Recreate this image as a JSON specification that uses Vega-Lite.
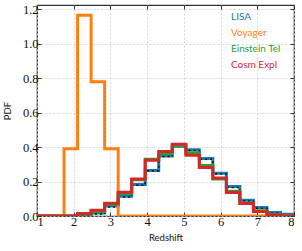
{
  "$schema": "https://vega.github.io/schema/vega-lite/v6.json",
  "width": 257,
  "height": 211,
  "autosize": "none",
  "padding": {"left": 37, "top": 5, "right": 8, "bottom": 35},
  "background": "white",
  "config": {
    "view": {"stroke": "#333333", "strokeWidth": 1.2},
    "axis": {
      "labelFont": "Liberation Serif",
      "labelFontSize": 12.5,
      "labelColor": "#111111",
      "titleFont": "Lato",
      "titleFontSize": 9.5,
      "titleFontWeight": "normal",
      "titleColor": "#111111",
      "domain": false,
      "tickColor": "#333333",
      "tickSize": -4,
      "gridColor": "#cccccc",
      "gridDash": [2, 2],
      "gridWidth": 0.8
    }
  },
  "data": {
    "values": [
      {"s": "LISA", "x": 1.0, "y": 0}, {"s": "LISA", "x": 1.368, "y": 0}, {"s": "LISA", "x": 1.737, "y": 0},
      {"s": "LISA", "x": 2.105, "y": 0.005}, {"s": "LISA", "x": 2.474, "y": 0.017}, {"s": "LISA", "x": 2.842, "y": 0.058},
      {"s": "LISA", "x": 3.211, "y": 0.115}, {"s": "LISA", "x": 3.579, "y": 0.183}, {"s": "LISA", "x": 3.947, "y": 0.264},
      {"s": "LISA", "x": 4.316, "y": 0.349}, {"s": "LISA", "x": 4.684, "y": 0.405}, {"s": "LISA", "x": 5.053, "y": 0.384},
      {"s": "LISA", "x": 5.421, "y": 0.334}, {"s": "LISA", "x": 5.789, "y": 0.248}, {"s": "LISA", "x": 6.158, "y": 0.171},
      {"s": "LISA", "x": 6.526, "y": 0.091}, {"s": "LISA", "x": 6.895, "y": 0.049}, {"s": "LISA", "x": 7.263, "y": 0.02},
      {"s": "LISA", "x": 7.632, "y": 0.01}, {"s": "LISA", "x": 8.0, "y": 0},

      {"s": "True", "x": 1.0, "y": 0}, {"s": "True", "x": 1.368, "y": 0}, {"s": "True", "x": 1.737, "y": 0},
      {"s": "True", "x": 2.105, "y": 0.002}, {"s": "True", "x": 2.474, "y": 0.012}, {"s": "True", "x": 2.842, "y": 0.052},
      {"s": "True", "x": 3.211, "y": 0.11}, {"s": "True", "x": 3.579, "y": 0.178}, {"s": "True", "x": 3.947, "y": 0.262},
      {"s": "True", "x": 4.316, "y": 0.345}, {"s": "True", "x": 4.684, "y": 0.403}, {"s": "True", "x": 5.053, "y": 0.38},
      {"s": "True", "x": 5.421, "y": 0.33}, {"s": "True", "x": 5.789, "y": 0.244}, {"s": "True", "x": 6.158, "y": 0.166},
      {"s": "True", "x": 6.526, "y": 0.087}, {"s": "True", "x": 6.895, "y": 0.045}, {"s": "True", "x": 7.263, "y": 0.016},
      {"s": "True", "x": 7.632, "y": 0.006}, {"s": "True", "x": 8.0, "y": 0},

      {"s": "Voyager", "x": 1.0, "y": 0}, {"s": "Voyager", "x": 1.368, "y": 0}, {"s": "Voyager", "x": 1.737, "y": 0.39},
      {"s": "Voyager", "x": 2.105, "y": 1.165}, {"s": "Voyager", "x": 2.474, "y": 0.78}, {"s": "Voyager", "x": 2.842, "y": 0.39},
      {"s": "Voyager", "x": 3.211, "y": 0}, {"s": "Voyager", "x": 3.579, "y": 0}, {"s": "Voyager", "x": 3.947, "y": 0},
      {"s": "Voyager", "x": 4.316, "y": 0}, {"s": "Voyager", "x": 4.684, "y": 0}, {"s": "Voyager", "x": 5.053, "y": 0},
      {"s": "Voyager", "x": 5.421, "y": 0}, {"s": "Voyager", "x": 5.789, "y": 0}, {"s": "Voyager", "x": 6.158, "y": 0},
      {"s": "Voyager", "x": 6.526, "y": 0}, {"s": "Voyager", "x": 6.895, "y": 0}, {"s": "Voyager", "x": 7.263, "y": 0},
      {"s": "Voyager", "x": 7.632, "y": 0}, {"s": "Voyager", "x": 8.0, "y": 0},

      {"s": "Einstein Tel", "x": 1.0, "y": 0}, {"s": "Einstein Tel", "x": 1.368, "y": 0}, {"s": "Einstein Tel", "x": 1.737, "y": 0},
      {"s": "Einstein Tel", "x": 2.105, "y": 0.01}, {"s": "Einstein Tel", "x": 2.474, "y": 0.026}, {"s": "Einstein Tel", "x": 2.842, "y": 0.068},
      {"s": "Einstein Tel", "x": 3.211, "y": 0.13}, {"s": "Einstein Tel", "x": 3.579, "y": 0.21}, {"s": "Einstein Tel", "x": 3.947, "y": 0.33},
      {"s": "Einstein Tel", "x": 4.316, "y": 0.362}, {"s": "Einstein Tel", "x": 4.684, "y": 0.41}, {"s": "Einstein Tel", "x": 5.053, "y": 0.367},
      {"s": "Einstein Tel", "x": 5.421, "y": 0.293}, {"s": "Einstein Tel", "x": 5.789, "y": 0.215}, {"s": "Einstein Tel", "x": 6.158, "y": 0.143},
      {"s": "Einstein Tel", "x": 6.526, "y": 0.075}, {"s": "Einstein Tel", "x": 6.895, "y": 0.03}, {"s": "Einstein Tel", "x": 7.263, "y": 0.008},
      {"s": "Einstein Tel", "x": 7.632, "y": 0}, {"s": "Einstein Tel", "x": 8.0, "y": 0},

      {"s": "Cosm Expl", "x": 1.0, "y": 0}, {"s": "Cosm Expl", "x": 1.368, "y": 0}, {"s": "Cosm Expl", "x": 1.737, "y": 0},
      {"s": "Cosm Expl", "x": 2.105, "y": 0.014}, {"s": "Cosm Expl", "x": 2.474, "y": 0.033}, {"s": "Cosm Expl", "x": 2.842, "y": 0.074},
      {"s": "Cosm Expl", "x": 3.211, "y": 0.138}, {"s": "Cosm Expl", "x": 3.579, "y": 0.215}, {"s": "Cosm Expl", "x": 3.947, "y": 0.324},
      {"s": "Cosm Expl", "x": 4.316, "y": 0.374}, {"s": "Cosm Expl", "x": 4.684, "y": 0.417}, {"s": "Cosm Expl", "x": 5.053, "y": 0.353},
      {"s": "Cosm Expl", "x": 5.421, "y": 0.281}, {"s": "Cosm Expl", "x": 5.789, "y": 0.221}, {"s": "Cosm Expl", "x": 6.158, "y": 0.136},
      {"s": "Cosm Expl", "x": 6.526, "y": 0.072}, {"s": "Cosm Expl", "x": 6.895, "y": 0.026}, {"s": "Cosm Expl", "x": 7.263, "y": 0.006},
      {"s": "Cosm Expl", "x": 7.632, "y": 0}, {"s": "Cosm Expl", "x": 8.0, "y": 0}
    ]
  },
  "layer": [
    {
      "encoding": {
        "x": {
          "field": "x", "type": "quantitative",
          "scale": {"domain": [1, 8], "nice": false, "zero": false},
          "axis": {"title": "Redshift", "values": [1, 2, 3, 4, 5, 6, 7, 8], "labelFont": "Liberation Serif", "labelFontSize": 12.5, "labelPadding": 3, "titlePadding": 5}
        },
        "y": {
          "field": "y", "type": "quantitative",
          "scale": {"domain": [0, 1.225], "nice": false},
          "axis": {"title": "PDF", "values": [0, 0.2, 0.4, 0.6, 0.8, 1.0, 1.2], "format": ".1f", "labelFont": "Liberation Serif", "labelFontSize": 12.5, "labelPadding": 3, "titlePadding": 10}
        }
      },
      "layer": [
        {
          "transform": [{"filter": "datum.s === 'LISA'"}],
          "mark": {"type": "line", "interpolate": "step-after", "strokeWidth": 3, "clip": true, "strokeJoin": "miter", "strokeCap": "butt"},
          "encoding": {"color": {"datum": "LISA", "type": "nominal", "scale": {"domain": ["LISA", "Voyager", "Einstein Tel", "Cosm Expl"], "range": ["#1f77b4", "#ff7f0e", "#2ca02c", "#d62728"]}, "legend": {"title": null, "orient": "none", "legendX": 184, "legendY": 7, "symbolSize": 0, "symbolStrokeWidth": 0, "symbolOpacity": 0, "labelFont": "Lato", "labelFontSize": 10, "labelOffset": 0, "rowPadding": 6, "encode": {"labels": {"update": {"fill": {"scale": "color", "field": "value"}}}}}}}
        },
        {
          "transform": [{"filter": "datum.s === 'True'"}],
          "mark": {"type": "line", "interpolate": "step-after", "strokeWidth": 1.5, "color": "#111111", "strokeDash": [2, 3], "clip": true},
          "encoding": {}
        },
        {
          "transform": [{"filter": "datum.s === 'Voyager'"}],
          "mark": {"type": "line", "interpolate": "step-after", "strokeWidth": 3, "clip": true, "strokeJoin": "miter", "strokeCap": "butt"},
          "encoding": {"color": {"datum": "Voyager", "type": "nominal"}}
        },
        {
          "transform": [{"filter": "datum.s === 'Einstein Tel'"}],
          "mark": {"type": "line", "interpolate": "step-after", "strokeWidth": 3, "clip": true, "strokeJoin": "miter", "strokeCap": "butt"},
          "encoding": {"color": {"datum": "Einstein Tel", "type": "nominal"}}
        },
        {
          "transform": [{"filter": "datum.s === 'Cosm Expl'"}],
          "mark": {"type": "line", "interpolate": "step-after", "strokeWidth": 3, "clip": true, "strokeJoin": "miter", "strokeCap": "butt"},
          "encoding": {"color": {"datum": "Cosm Expl", "type": "nominal"}}
        }
      ]
    },
    {
      "mark": {"type": "rule", "color": "#333333", "strokeWidth": 1, "opacity": 0},
      "encoding": {"x": {"datum": 1.0, "type": "quantitative", "axis": {"orient": "top", "labels": false, "title": null, "grid": false, "values": [1, 2, 3, 4, 5, 6, 7, 8]}}}
    },
    {
      "mark": {"type": "rule", "color": "#333333", "strokeWidth": 1, "opacity": 0},
      "encoding": {"y": {"datum": 0, "type": "quantitative", "axis": {"orient": "right", "labels": false, "title": null, "grid": false, "values": [0, 0.2, 0.4, 0.6, 0.8, 1.0, 1.2]}}}
    }
  ],
  "resolve": {"axis": {"x": "independent", "y": "independent"}}
}
